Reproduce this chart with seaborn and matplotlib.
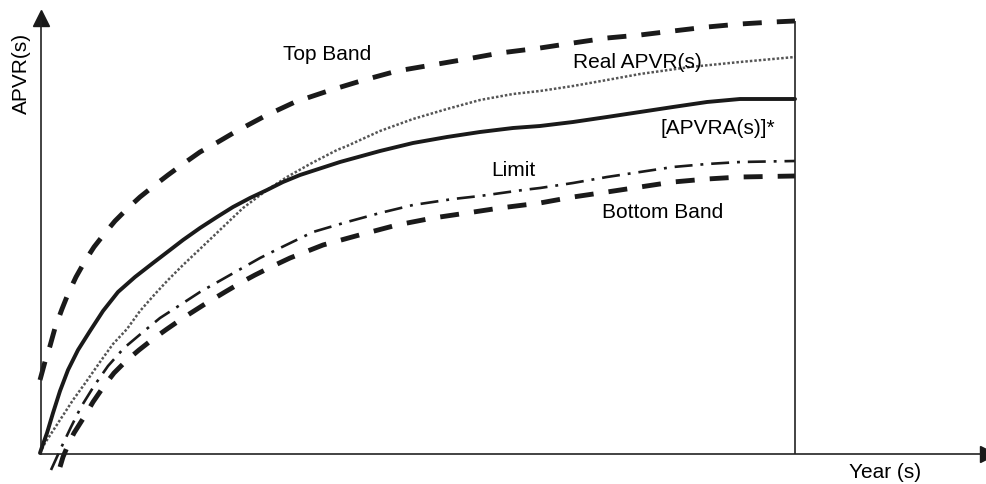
import matplotlib
matplotlib.use("Agg")
import matplotlib.pyplot as plt
import seaborn as sns

sns.set_style("white")
plt.rcParams["font.family"] = ["Liberation Sans", "DejaVu Sans"]

# curves, on the chart's own (untitled) scale:
# x = time 0..755 (end of period), y = APVR value
top_x = [0, 3, 6, 10, 15, 22, 28, 36, 45, 54, 65, 75, 88, 100, 115, 128, 143, 160, 178, 195,
         225, 255, 291, 324, 357, 392, 427, 460, 500, 533, 567, 600, 633, 667, 700, 733, 755]
top_y = [73, 84, 95, 107, 125, 144, 159, 176, 192, 206, 220, 232, 245, 256, 268, 278, 289,
         301, 311, 321, 337, 351, 363, 373, 382, 388, 394, 400, 405, 410, 415, 418, 422, 426,
         429, 431, 432]

real_x = [0, 5, 20, 33, 46, 60, 73, 87, 100, 115, 128, 143, 160, 182, 203, 227, 247, 270, 297,
          307, 340, 373, 407, 440, 473, 500, 533, 567, 600, 650, 700, 755]
real_y = [0, 10, 33, 53, 71, 91, 109, 124, 142, 159, 173, 188, 204, 225, 245, 263, 276, 289,
          303, 307, 322, 334, 344, 353, 359, 362, 367, 373, 379, 386, 391, 396]

apvra_x = [0, 2, 7, 13, 20, 28, 38, 50, 63, 78, 95, 113, 130, 143, 160, 177, 193, 210, 227,
           243, 260, 300, 340, 373, 407, 440, 473, 500, 533, 567, 600, 633, 667, 700, 755]
apvra_y = [0, 6, 20, 40, 62, 83, 103, 122, 142, 161, 176, 190, 203, 213, 225, 236, 246, 255,
           263, 271, 278, 291, 302, 310, 316, 321, 325, 327, 331, 336, 341, 346, 351, 354, 354]

limit_x = [11, 21, 31, 41, 54, 68, 84, 103, 120, 137, 160, 190, 220, 240, 273, 307, 340, 373,
           413, 440, 483, 500, 533, 567, 600, 633, 667, 700, 755]
limit_y = [-17, 5, 26, 46, 67, 87, 105, 121, 135, 146, 161, 178, 195, 205, 221, 231, 240, 248,
           254, 257, 263, 265, 270, 276, 281, 286, 289, 291, 292]

bottom_x = [20, 23, 28, 34, 46, 53, 64, 74, 86, 99, 113, 127, 143, 165, 185, 202, 215, 233,
            250, 283, 323, 357, 393, 427, 460, 500, 533, 567, 600, 633, 667, 700, 755]
bottom_y = [-14, -4, 8, 20, 39, 51, 67, 80, 92, 103, 114, 124, 135, 149, 161, 171, 178, 187,
            195, 208, 219, 228, 235, 240, 245, 250, 256, 261, 266, 271, 274, 276, 277]

period_end = 755

fig = plt.figure(figsize=(9.87, 4.84), dpi=100)
ax = fig.add_axes([0, 0, 1, 1])

ink = "#1a1a1a"
# top band / bottom band - thick dashes
sns.lineplot(x=top_x, y=top_y, ax=ax, color=ink, linewidth=3.5,
             dashes=(3.9, 3.1), sort=False, estimator=None)
sns.lineplot(x=bottom_x, y=bottom_y, ax=ax, color=ink, linewidth=3.5,
             dashes=(3.9, 3.1), sort=False, estimator=None)
# real APVR - gray dots
sns.lineplot(x=real_x, y=real_y, ax=ax, color="#555555", linewidth=1.8,
             dashes=(1, 0.8), sort=False, estimator=None)
# APVRA - solid
sns.lineplot(x=apvra_x, y=apvra_y, ax=ax, color=ink, linewidth=2.8,
             sort=False, estimator=None)
# limit - dash dot
sns.lineplot(x=limit_x, y=limit_y, ax=ax, color=ink, linewidth=1.9,
             dashes=(6.8, 3.0, 1.1, 3.0), sort=False, estimator=None)

# end of period line
ax.vlines(period_end, -1, 432, color="#222222", linewidth=1.2)

ax.set_xlim(-40, 947)
ax.set_ylim(-31, 453)
ax.set_xticks([])
ax.set_yticks([])
for s in ["top", "right"]:
    ax.spines[s].set_visible(False)
ax.spines["left"].set_position(("data", 1))
ax.spines["bottom"].set_position(("data", -1))
ax.spines["left"].set_bounds(-1, 432)
ax.spines["bottom"].set_bounds(1, 940)
for s in ["left", "bottom"]:
    ax.spines[s].set_color("#222222")
    ax.spines[s].set_linewidth(1.2)

# arrow heads
ax.plot(1, 435, marker="^", color=ink, markersize=11.5, clip_on=False)
ax.plot(948, -1, marker=">", color=ink, markersize=11.5, clip_on=False)

fs = 15
tc = "black"
ax.text(-19, 380, "APVR(s)", rotation=90, ha="center", va="center", fontsize=fs, color=tc)
ax.text(845, -19, "Year (s)", ha="center", va="center", fontsize=fs, color=tc)
ax.text(287, 398, "Top Band", ha="center", va="center", fontsize=fs, color=tc)
ax.text(597, 391, "Real APVR(s)", ha="center", va="center", fontsize=fs, color=tc)
ax.text(678, 325, "[APVRA(s)]*", ha="center", va="center", fontsize=fs, color=tc)
ax.text(473, 282, "Limit", ha="center", va="center", fontsize=fs, color=tc)
ax.text(623, 240, "Bottom Band", ha="center", va="center", fontsize=fs, color=tc)

plt.savefig("out.png", dpi=100)
